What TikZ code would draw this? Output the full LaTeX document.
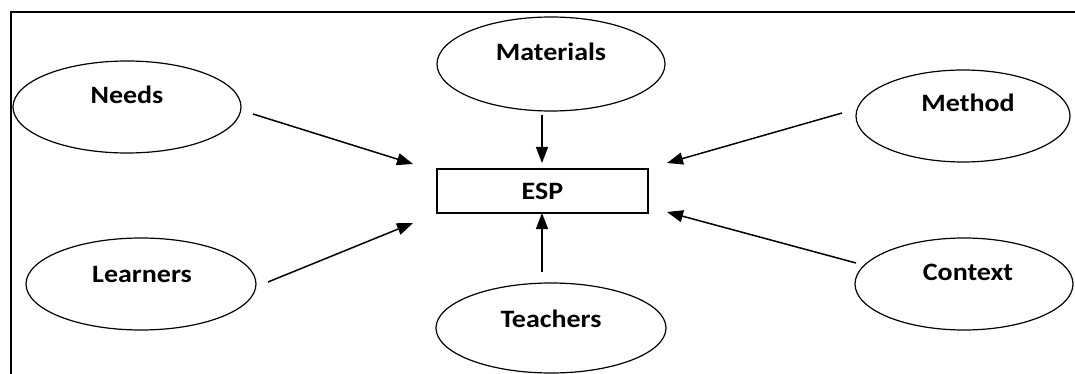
\documentclass[tikz,border=0pt]{standalone}
\usepackage{fontspec}
\newfontfamily\lblfont[FakeStretch=1.12]{Carlito}
\usetikzlibrary{shapes.geometric,arrows.meta}
\tikzset{
  ell/.style={draw, ellipse, line width=1.2pt, inner sep=0pt},
  txt/.style={font=\lblfont\bfseries\fontsize{25}{25}\selectfont, inner sep=0pt},
  espbox/.style={draw, rectangle, line width=1.4pt, inner sep=0pt, minimum width=211pt, minimum height=44pt},
  arr/.style={line width=1.5pt, -{Triangle[length=16pt,width=12pt]}}
}
\begin{document}
\begin{tikzpicture}[x=1pt,y=-1pt]
\useasboundingbox (0,0) rectangle (1075,374);
\draw[line width=1.8pt] (11,374) -- (11,12) -- (1075,12);
% ellipses
\node[ell, minimum width=228pt, minimum height=92pt] (needs) at (127,107) {};
\node[txt] (needs-t) at (127,95) {Needs};
\node[ell, minimum width=230pt, minimum height=92pt] (learners) at (141,284) {};
\node[txt] (learners-t) at (142,274) {Learners};
\node[ell, minimum width=228pt, minimum height=94pt] (materials) at (551,64) {};
\node[txt] (materials-t) at (551,52) {Materials};
\node[ell, minimum width=230pt, minimum height=90pt] (teachers) at (551,328) {};
\node[txt] (teachers-t) at (551,319) {Teachers};
\node[ell, minimum width=214pt, minimum height=92pt] (method) at (963,116) {};
\node[txt] (method-t) at (968,103) {Method};
\node[ell, minimum width=218pt, minimum height=92pt] (context) at (964,284) {};
\node[txt] (context-t) at (968,272) {Context};
% ESP
\node[espbox] (esp) at (542.5,191) {};
\node[txt] (esp-t) at (542.5,191) {ESP};
% arrow ends
\coordinate (needs-a) at (253,114);
\coordinate (esp-nw) at (413,164);
\coordinate (learners-a) at (268,282);
\coordinate (esp-sw) at (413,223);
\coordinate (materials-a) at (542,115);
\coordinate (esp-n) at (542,163);
\coordinate (teachers-a) at (542,272);
\coordinate (esp-s) at (542,213);
\coordinate (method-a) at (842,113);
\coordinate (esp-ne) at (667,163);
\coordinate (context-a) at (856,263);
\coordinate (esp-se) at (667,212);
\draw[arr] (needs-a) -- (esp-nw);
\draw[arr] (learners-a) -- (esp-sw);
\draw[arr] (materials-a) -- (esp-n);
\draw[arr] (teachers-a) -- (esp-s);
\draw[arr] (method-a) -- (esp-ne);
\draw[arr] (context-a) -- (esp-se);
\end{tikzpicture}
\end{document}
